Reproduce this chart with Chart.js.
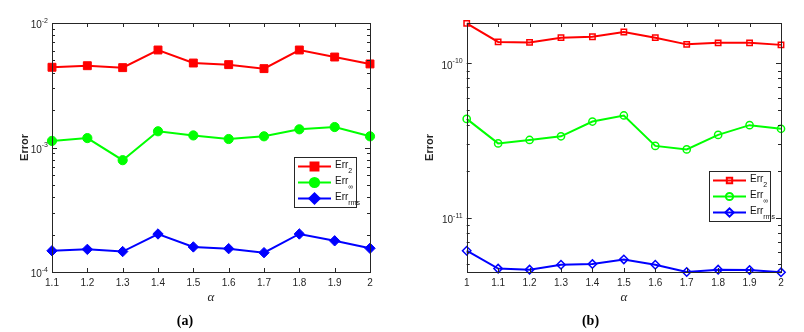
<!DOCTYPE html>
<html>
<head>
<meta charset="utf-8">
<script src="https://cdn.jsdelivr.net/npm/chart.js@4/dist/chart.umd.min.js"></script>
<style>
    html, body { margin: 0; padding: 0; background: #fff; }
    #wrap { position: relative; width: 804px; height: 332px; }
    .box { position: absolute; top: 0; height: 332px; }
</style>
</head>
<body>
<div id="wrap">
    <div class="box" style="left:0;width:400px"><canvas id="chartA"></canvas></div>
    <div class="box" style="left:400px;width:404px"><canvas id="chartB"></canvas></div>
</div>
<script>
// Datos panel (a)
const alphaA = [1.1, 1.2, 1.3, 1.4, 1.5, 1.6, 1.7, 1.8, 1.9, 2];
const err2A = [4.41e-3, 4.54e-3, 4.38e-3, 6.07e-3, 4.77e-3, 4.63e-3, 4.30e-3, 6.07e-3, 5.33e-3, 4.69e-3];
const errInfA = [1.13e-3, 1.19e-3, 7.91e-4, 1.35e-3, 1.25e-3, 1.17e-3, 1.23e-3, 1.40e-3, 1.46e-3, 1.23e-3];
const errRmsA = [1.48e-4, 1.52e-4, 1.46e-4, 2.02e-4, 1.59e-4, 1.54e-4, 1.43e-4, 2.02e-4, 1.78e-4, 1.55e-4];
const yTicksA = [1e-4, 2e-4, 3e-4, 4e-4, 5e-4, 6e-4, 7e-4, 8e-4, 9e-4,
    1e-3, 2e-3, 3e-3, 4e-3, 5e-3, 6e-3, 7e-3, 8e-3, 9e-3, 1e-2];

// Datos panel (b)
const alphaB = [1, 1.1, 1.2, 1.3, 1.4, 1.5, 1.6, 1.7, 1.8, 1.9, 2];
const err2B = [1.82e-10, 1.38e-10, 1.37e-10, 1.47e-10, 1.49e-10, 1.60e-10, 1.47e-10, 1.33e-10, 1.36e-10, 1.36e-10, 1.32e-10];
const errInfB = [4.37e-11, 3.03e-11, 3.19e-11, 3.37e-11, 4.20e-11, 4.60e-11, 2.92e-11, 2.77e-11, 3.44e-11, 3.98e-11, 3.77e-11];
const errRmsB = [6.10e-12, 4.67e-12, 4.60e-12, 4.95e-12, 5.00e-12, 5.36e-12, 4.95e-12, 4.44e-12, 4.60e-12, 4.57e-12, 4.42e-12];
const yTicksB = [5e-12, 6e-12, 7e-12, 8e-12, 9e-12,
    1e-11, 2e-11, 3e-11, 4e-11, 5e-11, 6e-11, 7e-11, 8e-11, 9e-11, 1e-10];

const legendMain = ['Err', 'Err', 'Err'];
const legendSub = ['2', '\u221E', 'rms'];
const seriesColors = ['#ff0000', '#00ff00', '#0000ff'];
const seriesStyles = ['rect', 'circle', 'rectRot'];

function isDecade(v) {
    const e = Math.log10(v);
    return Math.abs(e - Math.round(e)) < 1e-9;
}

// Marco, marcas interiores, etiquetas 10^n y leyenda estilo MATLAB
const framePlugin = {
    id: 'framePlugin',
    afterDraw(chart, args, opts) {
        const ctx = chart.ctx;
        const a = chart.chartArea;
        const xs = chart.scales.x;
        const ys = chart.scales.y;
        ctx.save();
        ctx.strokeStyle = '#262626';
        ctx.lineWidth = 1;
        ctx.beginPath();
        xs.ticks.forEach(t => {
            const px = Math.round(xs.getPixelForValue(t.value)) + 0.5;
            ctx.moveTo(px, a.bottom); ctx.lineTo(px, a.bottom - 4);
            ctx.moveTo(px, a.top); ctx.lineTo(px, a.top + 4);
        });
        ys.ticks.forEach(t => {
            const py = Math.round(ys.getPixelForValue(t.value)) + 0.5;
            const len = isDecade(t.value) ? 5 : 3;
            ctx.moveTo(a.left, py); ctx.lineTo(a.left + len, py);
            ctx.moveTo(a.right, py); ctx.lineTo(a.right - len, py);
        });
        ctx.stroke();
        ctx.strokeRect(Math.round(a.left) + 0.5, Math.round(a.top) + 0.5,
            Math.round(a.right - a.left), Math.round(a.bottom - a.top));

        // Etiquetas de décadas con exponente
        ctx.fillStyle = '#262626';
        ctx.textAlign = 'right';
        ctx.textBaseline = 'middle';
        ys.ticks.forEach(t => {
            if (!isDecade(t.value)) return;
            const py = ys.getPixelForValue(t.value);
            const exp = String(Math.round(Math.log10(t.value)));
            const xr = a.left - 4;
            ctx.font = '7px "Liberation Sans", Arial, sans-serif';
            ctx.fillText(exp, xr, py - 2);
            const ew = ctx.measureText(exp).width;
            ctx.font = '10px "Liberation Sans", Arial, sans-serif';
            ctx.fillText('10', xr - ew, py + 2.5);
        });

        // Leyenda
        const L = opts.box;
        ctx.fillStyle = '#fff';
        ctx.fillRect(L.x, L.y, L.w, L.h);
        ctx.strokeStyle = '#262626';
        ctx.strokeRect(L.x + 0.5, L.y + 0.5, L.w, L.h);
        chart.data.datasets.forEach((ds, i) => {
            const y = L.y + 9.5 + i * 16;
            ctx.strokeStyle = ds.borderColor;
            ctx.lineWidth = 2;
            ctx.beginPath();
            ctx.moveTo(L.x + 4, y); ctx.lineTo(L.x + 37, y);
            ctx.stroke();
            ctx.fillStyle = ds.pointBackgroundColor;
            Chart.helpers.drawPoint(ctx, {
                pointStyle: ds.pointStyle, radius: ds.pointRadius,
                borderWidth: ds.pointBorderWidth, rotation: 0
            }, L.x + 20.5, y);
            ctx.fillStyle = '#111';
            ctx.textBaseline = 'middle';
            ctx.textAlign = 'left';
            ctx.font = '10px "Liberation Sans", Arial, sans-serif';
            ctx.fillText(legendMain[i], L.x + 41, y - 1);
            const w = ctx.measureText(legendMain[i]).width;
            ctx.font = '7px "Liberation Sans", Arial, sans-serif';
            ctx.fillText(legendSub[i], L.x + 41 + w, y + 5);
        });
        ctx.restore();
    }
};

function buildDatasets(xs, series, filled) {
    return series.map((vals, i) => ({
        label: legendMain[i] + legendSub[i],
        data: xs.map((x, k) => ({ x: x, y: vals[k] })),
        borderColor: seriesColors[i],
        backgroundColor: seriesColors[i],
        pointBackgroundColor: filled ? seriesColors[i] : 'rgba(255,255,255,0)',
        pointBorderColor: seriesColors[i],
        pointBorderWidth: filled ? 1 : 1.5,
        pointStyle: seriesStyles[i],
        pointRadius: filled ? [5.6, 4.6, 5.2][i] : [3.8, 3.6, 4.2][i],
        borderWidth: 2,
        tension: 0,
        clip: false
    }));
}

function renderPanel(canvasId, cfg) {
    const ctx = document.getElementById(canvasId);
    if (!ctx) return;
    return new Chart(ctx, {
        type: 'line',
        data: { datasets: buildDatasets(cfg.alpha, cfg.series, cfg.filled) },
        plugins: [framePlugin],
        options: {
            responsive: true,
            maintainAspectRatio: false,
            animation: false,
            events: [],
            layout: { padding: { left: 0, right: cfg.padRight, top: 23, bottom: 0 } },
            plugins: {
                legend: { display: false },
                tooltip: { enabled: false },
                title: {
                    display: true,
                    position: 'bottom',
                    text: cfg.caption,
                    color: '#000',
                    font: { family: '"Liberation Serif", "Times New Roman", serif', size: 14, weight: 'bold' },
                    padding: { top: 0, bottom: 2 }
                },
                framePlugin: { box: cfg.legendBox }
            },
            scales: {
                x: {
                    type: 'linear',
                    min: cfg.alpha[0],
                    max: cfg.alpha[cfg.alpha.length - 1],
                    afterBuildTicks: s => { s.ticks = cfg.alpha.map(v => ({ value: v })); },
                    afterFit: s => { s.height = 41.2; },
                    grid: { display: false, drawTicks: false },
                    border: { display: false },
                    ticks: {
                        autoSkip: false,
                        maxRotation: 0,
                        padding: 5,
                        color: '#262626',
                        font: { family: '"Liberation Sans", Arial, sans-serif', size: 10 },
                        callback: v => String(parseFloat(Number(v).toFixed(1)))
                    },
                    title: {
                        display: true,
                        text: '\u03B1',
                        color: '#262626',
                        font: { family: '"Liberation Serif", "Times New Roman", serif', size: 13, style: 'italic' },
                        padding: { top: 0, bottom: 8 }
                    }
                },
                y: {
                    type: 'logarithmic',
                    min: cfg.yMin,
                    max: cfg.yMax,
                    afterBuildTicks: s => { s.ticks = cfg.yTicks.map(v => ({ value: v })); },
                    afterFit: s => { s.width = cfg.yWidth; },
                    grid: { display: false, drawTicks: false },
                    border: { display: false },
                    ticks: {
                        autoSkip: false,
                        padding: 4,
                        callback: () => ''
                    },
                    title: {
                        display: true,
                        text: 'Error',
                        color: '#262626',
                        font: { family: '"Liberation Sans", Arial, sans-serif', size: 11, weight: 'bold' },
                        padding: { top: cfg.titlePad, bottom: 0 }
                    }
                }
            }
        }
    });
}

renderPanel('chartA', {
    alpha: alphaA,
    series: [err2A, errInfA, errRmsA],
    filled: true,
    yMin: 1e-4, yMax: 1e-2, yTicks: yTicksA,
    yWidth: 52, padRight: 30, titlePad: 18,
    caption: '(a)',
    legendBox: { x: 294, y: 157, w: 62, h: 50 }
});

renderPanel('chartB', {
    alpha: alphaB,
    series: [err2B, errInfB, errRmsB],
    filled: false,
    yMin: 4.44e-12, yMax: 1.83e-10, yTicks: yTicksB,
    yWidth: 66.7, padRight: 23, titlePad: 23,
    caption: '(b)',
    legendBox: { x: 309, y: 171, w: 61, h: 50 }
});
</script>
</body>
</html>
